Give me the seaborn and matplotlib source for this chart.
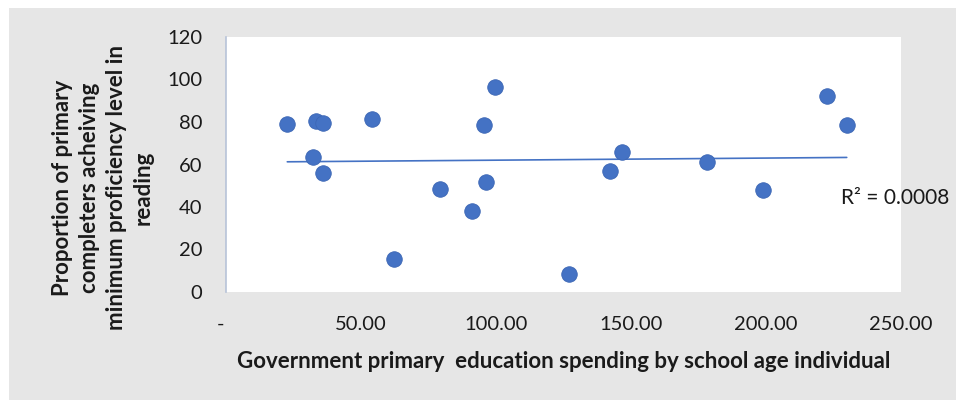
import numpy as np
import pandas as pd
import matplotlib.pyplot as plt
import seaborn as sns
from matplotlib.patches import Rectangle
from matplotlib.ticker import FuncFormatter

# Values
spending = [22.7, 33.3, 36.0, 32.3, 36.0, 54.2, 62.2, 79.3, 91.2, 95.7,
            96.2, 99.7, 126.9, 142.2, 146.6, 178.0, 199.0, 222.5, 229.9]
reading = [78.9, 80.6, 79.5, 63.5, 56.1, 81.6, 15.5, 48.6, 38.3, 78.4,
           51.6, 96.5, 8.3, 56.8, 65.7, 61.0, 47.9, 92.1, 78.6]
x_ticks = [0, 50, 100, 150, 200, 250]
y_ticks = [0, 20, 40, 60, 80, 100, 120]
r2_label = "R² = 0.0008"
x_title = "Government primary  education spending by school age individual"
y_title = "Proportion of primary\ncompleters acheiving\nminimum proficiency level in\nreading"

df = pd.DataFrame({"spending": spending, "reading": reading})

sns.set_theme(style="white")
plt.rcParams['font.family'] = ['Lato', 'DejaVu Sans']

W, H = 956, 400
fig = plt.figure(figsize=(W / 100, H / 100), dpi=100)
fig.patch.set_facecolor("white")
# grey chart area
fig.patches.append(Rectangle((9 / W, 0), 1 - 9 / W, 1 - 8 / H,
                             transform=fig.transFigure, facecolor="#e6e6e6",
                             edgecolor="none", zorder=-10))

ax = fig.add_axes([226 / W, 1 - 292 / H, (901 - 226) / W, (292 - 37) / H])
ax.set_facecolor("white")

blue = "#4472C4"
sns.regplot(data=df, x="spending", y="reading", scatter=False, ci=None,
            ax=ax, line_kws={"color": blue, "lw": 1.2, "zorder": 2})
sns.scatterplot(data=df, x="spending", y="reading", s=125, color=blue,
                edgecolor="#3d67b5", linewidth=0.6, ax=ax, zorder=3)

ax.set_xlim(0, 250)
ax.set_ylim(0, 120)
ax.set_xticks(x_ticks)
ax.set_yticks(y_ticks)
ax.xaxis.set_major_formatter(FuncFormatter(lambda v, p: "-  " if v == 0 else f"{v:.2f}"))
ax.tick_params(axis="both", length=0, labelsize=14.5, colors="#1a1a1a")
ax.tick_params(axis="x", pad=17)
ax.tick_params(axis="y", pad=17)

for side in ["top", "right", "bottom"]:
    ax.spines[side].set_visible(False)
ax.spines["left"].set_color("#b7c3d8")
ax.spines["left"].set_linewidth(1.2)

ax.set_xlabel("")
ax.set_ylabel("")
fig.text(563.5 / W, 1 - 361 / H, x_title, ha="center", va="center",
         fontsize=16, fontweight="bold", color="#1a1a1a")
fig.text(103 / W, 1 - 188 / H, y_title, ha="center", va="center",
         rotation=90, fontsize=16, fontweight="bold", color="#1a1a1a",
         linespacing=1.35, multialignment="center")
fig.text(841 / W, 1 - 198 / H, r2_label, ha="left", va="center",
         fontsize=15, color="#1a1a1a")

fig.savefig("out.png", dpi=100, facecolor=fig.get_facecolor())
